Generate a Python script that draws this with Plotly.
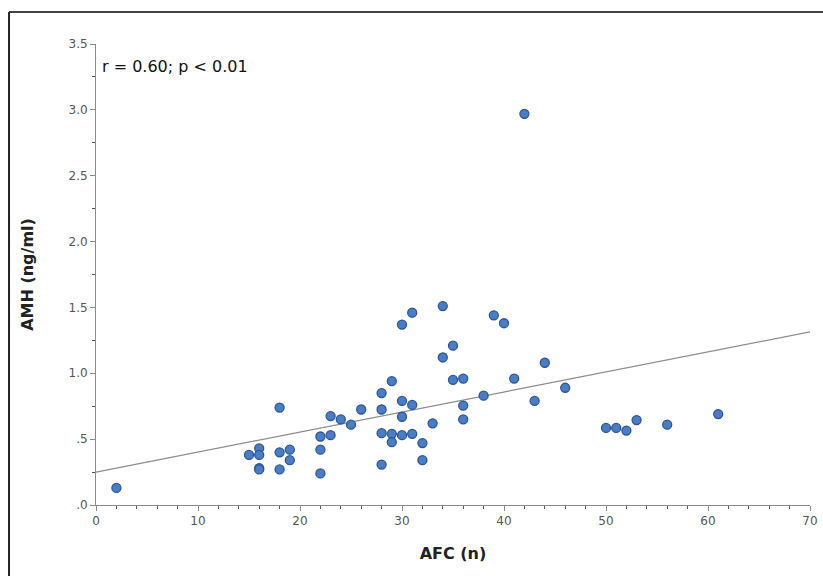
import plotly.graph_objects as go

# AFC (n) values
afc = [2, 15, 16, 16, 16, 16, 18, 18, 18, 19, 19, 22, 22, 22, 23, 23, 24, 25, 26,
       28, 28, 28, 28, 29, 29, 29, 30, 30, 30, 30, 31, 31, 31, 32, 32, 33, 34, 34,
       35, 35, 36, 36, 36, 38, 39, 40, 41, 42, 43, 44, 46, 50, 51, 52, 53, 56, 61]
# AMH (ng/ml) values
amh = [0.13, 0.38, 0.43, 0.38, 0.28, 0.27, 0.74, 0.40, 0.27, 0.42, 0.34, 0.52, 0.42, 0.24,
       0.675, 0.53, 0.65, 0.61, 0.725, 0.85, 0.725, 0.545, 0.307, 0.94, 0.54, 0.477,
       1.37, 0.79, 0.67, 0.53, 1.46, 0.76, 0.54, 0.47, 0.34, 0.62, 1.51, 1.12,
       1.21, 0.95, 0.96, 0.755, 0.65, 0.83, 1.44, 1.38, 0.96, 2.97, 0.79, 1.08, 0.89,
       0.585, 0.585, 0.565, 0.645, 0.61, 0.69]

fit_intercept = 0.25
fit_slope = 0.0152
fit_x = [0, 70]
fit_y = [fit_intercept + fit_slope * v for v in fit_x]

y_tickvals = [0, 0.5, 1.0, 1.5, 2.0, 2.5, 3.0, 3.5]
y_ticktext = [".0", ".5", "1.0", "1.5", "2.0", "2.5", "3.0", "3.5"]
x_tickvals = [0, 10, 20, 30, 40, 50, 60, 70]

fig = go.Figure()
fig.add_trace(go.Scatter(x=fit_x, y=fit_y, mode="lines",
                         line=dict(color="#8c8c8c", width=1.2), hoverinfo="skip"))
fig.add_trace(go.Scatter(x=afc, y=amh, mode="markers",
                         marker=dict(size=9, color="#4a7dc4",
                                     line=dict(color="#2b5597", width=1.3))))

font_family = "DejaVu Sans, Verdana, sans-serif"
fig.update_layout(
    width=823, height=576,
    margin=dict(l=96, r=13, t=44, b=71),
    paper_bgcolor="white", plot_bgcolor="white",
    showlegend=False,
    font=dict(family=font_family, color="#555555", size=12),
    xaxis=dict(range=[0, 70], tickvals=x_tickvals, showline=True, linecolor="#8a8a8a",
               linewidth=1, ticks="outside", ticklen=5, tickcolor="#8a8a8a",
               minor=dict(dtick=2, ticks="outside", ticklen=3, tickcolor="#555555"),
               showgrid=False, zeroline=False, automargin=False,
               tickfont=dict(size=12, color="#555555"),
               title=dict(text="<b>AFC (n)</b>", font=dict(size=16, color="#222222"),
                          standoff=20)),
    yaxis=dict(range=[0, 3.5], tickvals=y_tickvals, ticktext=y_ticktext, showline=True,
               linecolor="#8a8a8a", linewidth=1, ticks="outside", ticklen=5,
               tickcolor="#8a8a8a", automargin=False,
               minor=dict(dtick=0.25, ticks="outside", ticklen=3, tickcolor="#555555"),
               showgrid=False, zeroline=False,
               tickfont=dict(size=12, color="#555555"),
               title=dict(text="<b>AMH (ng/ml)</b>", font=dict(size=16, color="#222222"),
                          standoff=30)),
    annotations=[dict(text="r = 0.60; p < 0.01", xref="paper", yref="paper",
                      x=0.006, y=0.952, xanchor="left", yanchor="middle",
                      showarrow=False, font=dict(size=16, color="#111111",
                                                 family=font_family))],
    shapes=[
        dict(type="line", xref="paper", yref="paper", x0=-0.1218, x1=1.03,
             y0=1.0694, y1=1.0694, line=dict(color="#444444", width=2)),
        dict(type="line", xref="paper", yref="paper", x0=-0.1218, x1=-0.1218,
             y0=1.0694, y1=-0.17, line=dict(color="#222222", width=2)),
    ],
)

fig.write_html("out.html", config={"displayModeBar": False},
               post_script="document.body.style.margin='0';document.body.style.overflow='hidden';")
